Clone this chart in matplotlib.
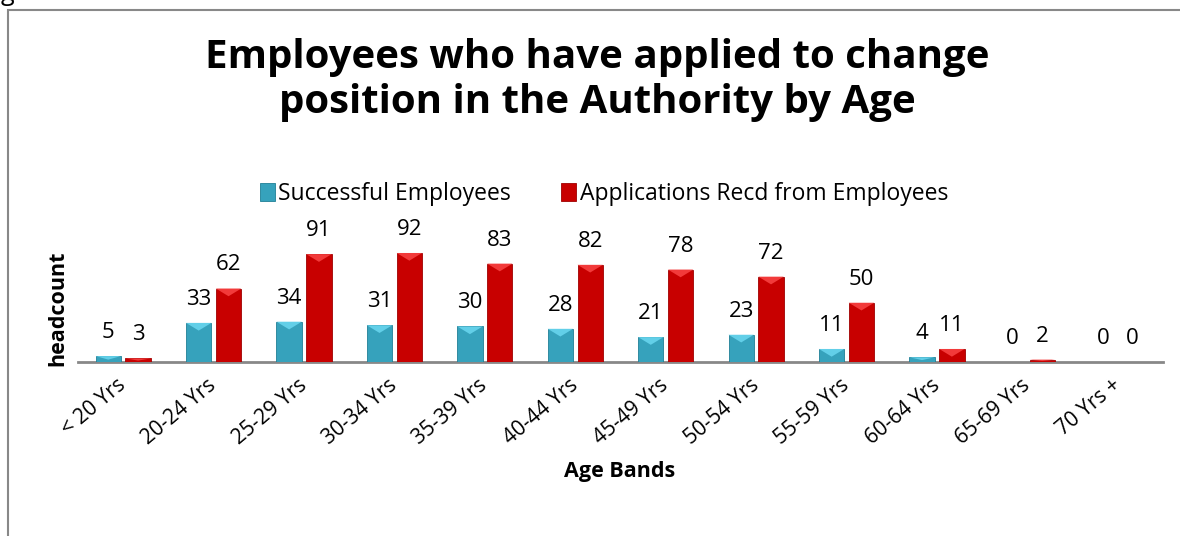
import matplotlib
matplotlib.use("Agg")
import matplotlib.pyplot as plt
from matplotlib.patches import Rectangle, Polygon
import numpy as np

categories = ["< 20 Yrs", "20-24 Yrs", "25-29 Yrs", "30-34 Yrs", "35-39 Yrs", "40-44 Yrs",
              "45-49 Yrs", "50-54 Yrs", "55-59 Yrs", "60-64 Yrs", "65-69 Yrs", "70 Yrs +"]
successful = [5, 33, 34, 31, 30, 28, 21, 23, 11, 4, 0, 0]
applications = [3, 62, 91, 92, 83, 82, 78, 72, 50, 11, 2, 0]
series_names = ["Successful Employees", "Applications Recd from Employees"]

plt.rcParams['font.family'] = ['Open Sans', 'DejaVu Sans']

W, H = 1180, 536
fig = plt.figure(figsize=(W / 100, H / 100), dpi=100)

# outer frame
fig.patches.append(Rectangle((8 / W, -0.1), 1.2, 1 - 10 / H + 0.1, transform=fig.transFigure,
                             fill=False, edgecolor='#888888', linewidth=1.5))
fig.text(1 / W, 1 + 6 / H, "g", fontsize=18, va='center', ha='left')

left, right = 78 / W, 1163 / W
base = 1 - 362 / H
ymax = 100
ax_h = ymax * 1.185 / H
ax = fig.add_axes([left, base, right - left, ax_h])

x = np.arange(len(categories))
bw = 0.28
off = 0.165
cyan = '#36A2BC'
red = '#C80000'
b1 = ax.bar(x - off, successful, bw, color=cyan, edgecolor='#1F7F96', linewidth=0.6, label=series_names[0], zorder=3)
b2 = ax.bar(x + off, applications, bw, color=red, edgecolor='#A00000', linewidth=0.6, label=series_names[1], zorder=3)

# bevel highlight at the top of each bar
for bars, hl in ((b1, '#62CFE8'), (b2, '#F23A3A')):
    for p in bars.patches:
        h = p.get_height()
        if h <= 0:
            continue
        x0 = p.get_x()
        x1 = x0 + p.get_width()
        d = min(6.5, h * 0.6)
        ax.add_patch(Polygon([(x0, h), (x1, h), ((x0 + x1) / 2, h - d)], closed=True,
                             facecolor=hl, edgecolor='none', zorder=4))

for xs, vals in ((x - off, successful), (x + off, applications)):
    for xi, v in zip(xs, vals):
        ax.annotate(str(v), (xi, v), xytext=(0, 13), textcoords='offset points',
                    ha='center', va='baseline', fontsize=16, annotation_clip=False)

ax.set_xlim(-0.5, len(categories) - 0.5)
ax.set_ylim(0, ymax)
for s in ['top', 'right', 'left']:
    ax.spines[s].set_visible(False)
ax.spines['bottom'].set_color('#888888')
ax.spines['bottom'].set_linewidth(2)
ax.set_yticks([])
ax.set_xticks(x)
ax.set_xticklabels(categories, rotation=40, ha='right', va='center', rotation_mode='anchor', fontsize=15)
ax.tick_params(axis='x', length=0, pad=15)
ax.patch.set_alpha(0)

fig.text(58 / W, 1 - 308 / H, "headcount", rotation=90, fontsize=15.5, fontweight='bold', ha='center', va='center')
fig.text(620 / W, 1 - 472 / H, "Age Bands", fontsize=15.5, fontweight='bold', ha='center', va='center')
fig.text(597 / W, 1 - 80 / H, "Employees who have applied to change\nposition in the Authority by Age",
         fontsize=29, fontweight='bold', ha='center', va='center', linespacing=1.2)

leg = fig.legend(handles=[b1, b2], loc='center', bbox_to_anchor=(604 / W, 1 - 194 / H), ncol=2,
                 frameon=False, fontsize=16.5, handlelength=0.65, handleheight=0.8, handletextpad=0.15,
                 columnspacing=2.2, borderpad=0, borderaxespad=0)

fig.savefig("out.png", dpi=100)
